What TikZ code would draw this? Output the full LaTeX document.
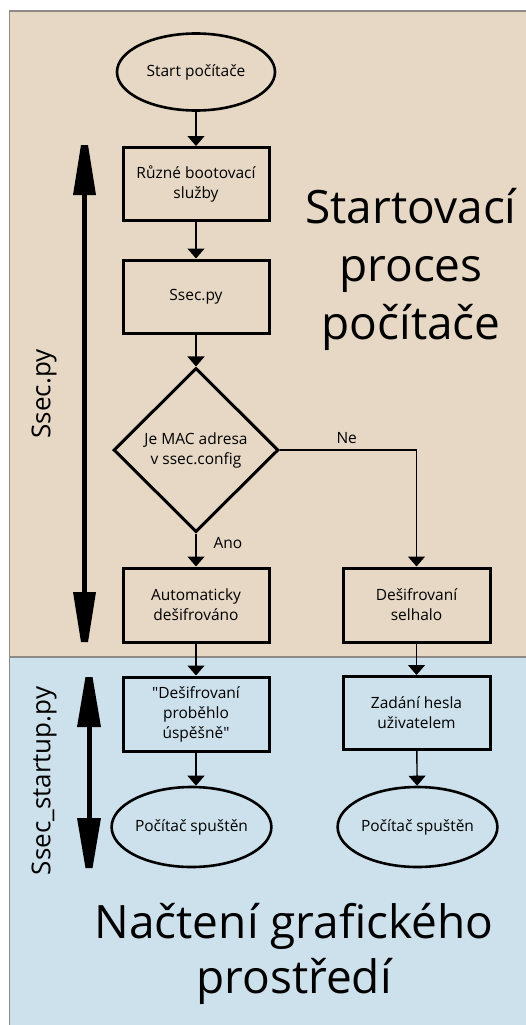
\documentclass[tikz,border=0pt]{standalone}
\usepackage{fontspec}
\setmainfont{Open Sans}
\usetikzlibrary{shapes.geometric,arrows.meta}
\definecolor{beige}{HTML}{E7D8C5}
\definecolor{paleblue}{HTML}{CDE1EC}
\definecolor{frame}{HTML}{8F8A85}
\newcommand{\straightquote}{\XeTeXglyph\XeTeXcharglyph"0022\relax}
\tikzset{
  boxnode/.style={draw, line width=3pt, rectangle, minimum width=146pt, minimum height=73pt, align=center, inner sep=2pt, font=\fontsize{15.5}{20}\selectfont},
  ellnode/.style={draw, line width=2.6pt, ellipse, minimum width=156pt, minimum height=78pt, inner sep=0pt, align=center, font=\fontsize{15.5}{20}\selectfont},
  dianode/.style={draw, line width=3pt, diamond, minimum width=165pt, minimum height=164pt, inner sep=0pt, align=center, font=\fontsize{15.5}{20}\selectfont},
  conn/.style={line width=1.4pt, -{Triangle[length=10pt,width=17pt]}},
  lbl/.style={font=\fontsize{15.5}{20}\selectfont},
  bigtxt/.style={font=\fontsize{46}{58}\selectfont, anchor=base},
  sidetxt/.style={font=\fontsize{26}{30}\selectfont, rotate=90}
}
\begin{document}
\begin{tikzpicture}[x=1pt,y=-1pt]
\useasboundingbox (0,0) rectangle (526,1025);
% backgrounds
\fill[beige] (9,11) rectangle (530,657);
\fill[paleblue] (9,657) rectangle (530,1030);
\draw[frame, line width=2pt] (9,11.5) -- (530,11.5);
\draw[frame, line width=1pt] (9.5,11) -- (9.5,1030);
\draw[frame, line width=1.5pt] (9,657) -- (530,657);

% nodes
\node[ellnode, minimum width=158pt, minimum height=77pt] (start) at (196,72) {Start počítače};
\node[boxnode] (b1) at (196,184) {Různé bootovací\\služby};
\node[boxnode] (b2) at (196,296.5) {Ssec.py};
\node[dianode] (dia) at (196,450) {Je MAC adresa\\v ssec.config};
\node[boxnode, minimum height=74pt] (b3) at (196,605) {Automaticky\\dešifrováno};
\node[boxnode, minimum width=147pt, minimum height=74pt] (b4) at (416.5,605) {Dešifrovaní\\selhalo};
\node[boxnode, minimum height=74pt] (b5) at (196,714) {\straightquote Dešifrovaní\\proběhlo\\úspěšně\straightquote};
\node[boxnode, minimum width=147pt] (b6) at (416.5,713) {Zadání hesla\\uživatelem};
\node[ellnode, minimum width=155pt, minimum height=80pt] (e1) at (191.5,827) {Počítač spuštěn};
\node[ellnode, minimum width=157pt, minimum height=80pt] (e2) at (417.5,827) {Počítač spuštěn};

% connectors
\draw[conn] (start) -- (b1);
\draw[conn] (b1) -- (b2);
\draw[conn] (b2) -- (dia);
\draw[conn] (dia) -- (b3);
\draw[conn] (dia.east) -| (b4.north);
\draw[conn] (b3) -- (b5);
\draw[conn] (b4) -- (b6);
\draw[conn] (b5.south) -- (b5.south |- e1.north);
\draw[conn] (b6) -- (e2);

\node[lbl, anchor=base west] (ne) at (333,443) {Ne};
\node[lbl, anchor=base west] (ano) at (210,548) {Ano};

% big double arrows
\coordinate (a1t) at (84.5,145);
\coordinate (a1b) at (84.5,642);
\draw[line width=5pt] ([yshift=-40pt]a1t) -- ([yshift=40pt]a1b);
\fill[shift={(a1t)}] (-3.5,0) -- (3.5,0) -- (11.5,50) -- (-11.5,50) -- cycle;
\fill[shift={(a1b)}] (-3.5,0) -- (3.5,0) -- (11.5,-50) -- (-11.5,-50) -- cycle;

\coordinate (a2t) at (89,677);
\coordinate (a2b) at (89,868);
\draw[line width=5pt] ([yshift=-40pt]a2t) -- ([yshift=40pt]a2b);
\fill[shift={(a2t)}] (-3.5,0) -- (3.5,0) -- (12,50) -- (-12,50) -- cycle;
\fill[shift={(a2b)}] (-3.5,0) -- (3.5,0) -- (12,-50) -- (-12,-50) -- cycle;

\node[sidetxt] (s1) at (44,394) {Ssec.py};
\node[sidetxt] (s2) at (44,781) {Ssec\_startup.py};

% titles
\node[bigtxt] (t1) at (411,223) {Startovací};
\node[bigtxt] (t2) at (411,281) {proces};
\node[bigtxt] (t3) at (411,339) {počítače};
\node[bigtxt] (t4) at (294,938) {Načtení grafického};
\node[bigtxt] (t5) at (294,993) {prostředí};
\end{tikzpicture}
\end{document}
